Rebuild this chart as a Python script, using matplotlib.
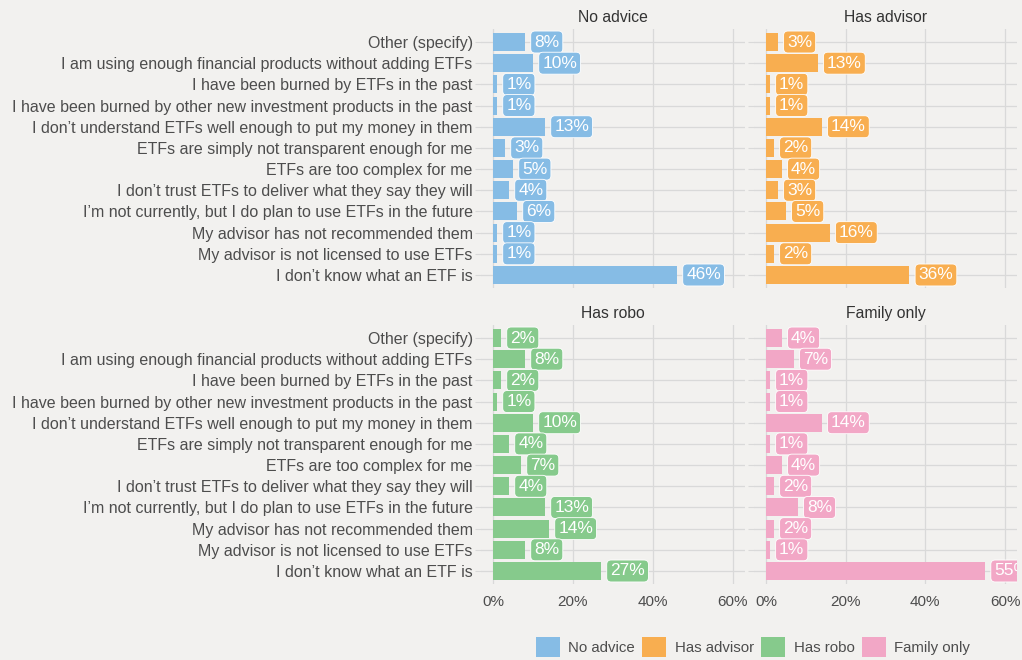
import matplotlib
matplotlib.use("Agg")
import matplotlib.pyplot as plt
from matplotlib.patches import Patch

plt.rcParams["font.family"] = ["Liberation Sans", "DejaVu Sans"]

reasons = [
    "Other (specify)",
    "I am using enough financial products without adding ETFs",
    "I have been burned by ETFs in the past",
    "I have been burned by other new investment products in the past",
    "I don\u2019t understand ETFs well enough to put my money in them",
    "ETFs are simply not transparent enough for me",
    "ETFs are too complex for me",
    "I don\u2019t trust ETFs to deliver what they say they will",
    "I\u2019m not currently, but I do plan to use ETFs in the future",
    "My advisor has not recommended them",
    "My advisor is not licensed to use ETFs",
    "I don\u2019t know what an ETF is",
]
groups = ["No advice", "Has advisor", "Has robo", "Family only"]
no_advice = [8, 10, 1, 1, 13, 3, 5, 4, 6, 1, 1, 46]
has_advisor = [3, 13, 1, 1, 14, 2, 4, 3, 5, 16, 2, 36]
has_robo = [2, 8, 2, 1, 10, 4, 7, 4, 13, 14, 8, 27]
family_only = [4, 7, 1, 1, 14, 1, 4, 2, 8, 2, 1, 55]
values = [no_advice, has_advisor, has_robo, family_only]
colors = ["#86BCE5", "#F8AE50", "#86CA8C", "#F2A7C6"]
ticks = [0, 20, 40, 60]

BG = "#F2F1EF"
GRID = "#D9D9D9"
TXT = "#4D4D4D"

W, H = 1022, 660
fig = plt.figure(figsize=(W / 100, H / 100), dpi=100, facecolor=BG)

# panel boxes in pixels: left, top, width, height
boxes = [(481, 29.3, 264, 258.4), (754, 29.3, 263, 258.4),
         (481, 325.3, 264, 258.4), (754, 325.3, 263, 258.4)]

ypos = list(range(len(reasons)))[::-1]
for i, (g, vals, col, (l, t, w, h)) in enumerate(zip(groups, values, colors, boxes)):
    ax = fig.add_axes([l / W, 1 - (t + h) / H, w / W, h / H])
    ax.set_facecolor(BG)
    ax.barh(ypos, vals, height=0.85, color=col, zorder=2)
    for y, v in zip(ypos, vals):
        ax.text(v + 2.3, y, f"{v}%", ha="left", va="center", color="white",
                fontsize=12.5, zorder=3, clip_on=True,
                bbox=dict(boxstyle="round,pad=0.2,rounding_size=0.25",
                          fc=col, ec="white", lw=0.6))
    ax.set_xlim(-3, 63)
    ax.set_ylim(-0.6, len(reasons) - 0.4)
    ax.set_xticks(ticks)
    ax.set_yticks(ypos)
    ax.grid(True, color=GRID, lw=0.9, zorder=0)
    for s in ax.spines.values():
        s.set_visible(False)
    ax.tick_params(axis="both", length=4, color=GRID, labelcolor=TXT, labelsize=11, pad=2)
    ax.tick_params(axis="x", length=0, pad=8)
    if i % 2 == 0:
        ax.set_yticklabels(reasons, fontsize=11.5)
    else:
        ax.set_yticklabels([])
    if i >= 2:
        ax.set_xticklabels([f"{x}%" for x in ticks])
    else:
        ax.set_xticklabels([])
    ax.set_title(g, fontsize=11.3, color="#333333", pad=5)

handles = [Patch(facecolor=c, edgecolor="none") for c in colors]
fig.legend(handles, groups, loc="center", bbox_to_anchor=(753 / W, 1 - 647 / H),
           ncol=4, frameon=False, fontsize=10.8, labelcolor=TXT,
           handlelength=1.6, handleheight=1.6, handletextpad=0.55, columnspacing=0.5)

fig.savefig("out.png", dpi=100, facecolor=BG)
